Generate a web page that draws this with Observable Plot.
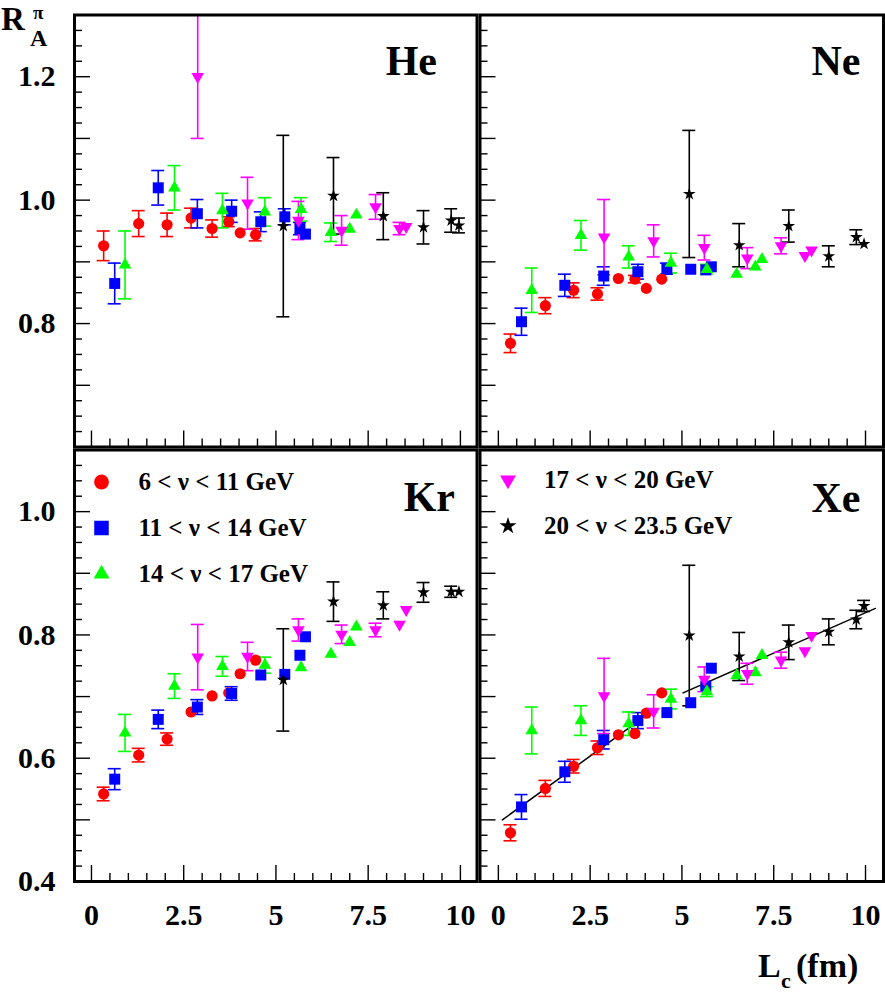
<!DOCTYPE html>
<html>
<head>
<meta charset="utf-8">
<script src="https://cdn.jsdelivr.net/npm/d3@7"></script>
<script src="https://cdn.jsdelivr.net/npm/@observablehq/plot@0.6"></script>
<style>
  html, body { margin: 0; padding: 0; background: #fff; }
  #chart { position: relative; width: 885px; height: 994px; overflow: hidden; background: #fff; }
  #chart svg { position: absolute; left: 0; top: 0; }
</style>
</head>
<body>
<div id="chart"></div>
<script>
// Coherence length L_c (fm) of each nu bin
const lcBin1 = [0.33, 1.28, 2.05, 2.70, 3.27, 3.72, 4.03, 4.45];
const lcBin2 = [0.63, 1.81, 2.87, 3.80, 4.59, 5.24, 5.65, 5.80];
const lcBin3 = [0.91, 2.25, 3.55, 4.70, 5.68, 6.49, 7.00, 7.18];
const lcBin4 = [2.88, 4.23, 5.61, 6.78, 7.70, 8.35, 8.53];
const lcBin5 = [5.20, 6.56, 7.91, 9.00, 9.75, 9.96];

// R_A^pi and its error, [value, error] per point (error 0 = hidden behind marker)
const heBin1 = [[0.926,0.024],[0.962,0.021],[0.960,0.019],[0.971,0.016],[0.954,0.014],[0.965,0.008],[0.947,0],[0.944,0.010]];
const heBin2 = [[0.865,0.033],[1.020,0.028],[0.978,0.023],[0.982,0.018],[0.965,0.016],[0.973,0.013],[0.954,0.010],[0.945,0]];
const heBin3 = [[0.895,0.055],[1.020,0.036],[0.983,0.028],[0.981,0.023],[0.985,0.019],[0.948,0.015],[0.953,0],[0.976,0]];
const heBin4 = [[1.200,0.100],[0.995,0.042],[0.967,0.031],[0.951,0.024],[0.989,0.020],[0.954,0.010],[0.957,0]];
const heBin5 = [[0.958,0.147],[1.007,0.062],[0.974,0.038],[0.956,0.027],[0.967,0.019],[0.959,0.012]];

const neBin1 = [[0.768,0.015],[0.829,0.013],[0.854,0.012],[0.848,0.010],[0.873,0],[0.872,0.006],[0.857,0],[0.872,0]];
const neBin2 = [[0.803,0.022],[0.862,0.018],[0.877,0.015],[0.884,0.012],[0.889,0.009],[0.888,0],[0.887,0],[0.892,0]];
const neBin3 = [[0.854,0.036],[0.943,0.024],[0.908,0.018],[0.898,0.016],[0.888,0.008],[0.880,0],[0.892,0],[0.904,0]];
const neBin4 = [[0.940,0.061],[0.934,0.026],[0.923,0.020],[0.906,0.017],[0.926,0.013],[0.910,0],[0.919,0]];
const neBin5 = [[1.010,0.103],[0.927,0.035],[0.958,0.026],[0.909,0.017],[0.940,0.012],[0.929,0]];

const krBin1 = [[0.542,0.011],[0.605,0.011],[0.631,0.010],[0.675,0],[0.701,0],[0.706,0],[0.737,0],[0.759,0]];
const krBin2 = [[0.566,0.017],[0.663,0.015],[0.683,0.012],[0.705,0.011],[0.735,0],[0.736,0],[0.767,0],[0.797,0]];
const krBin3 = [[0.641,0.030],[0.717,0.020],[0.749,0.016],[0.751,0.013],[0.747,0],[0.769,0],[0.788,0],[0.813,0]];
const krBin4 = [[0.764,0.053],[0.765,0.023],[0.808,0.018],[0.801,0.015],[0.808,0.011],[0.817,0],[0.841,0]];
const krBin5 = [[0.727,0.083],[0.854,0.032],[0.848,0.022],[0.869,0.016],[0.870,0.009],[0.870,0]];

const xeBin1 = [[0.479,0.013],[0.551,0.013],[0.587,0.011],[0.617,0.011],[0.638,0],[0.640,0],[0.673,0],[0.706,0]];
const xeBin2 = [[0.521,0.020],[0.578,0.017],[0.630,0.015],[0.661,0.013],[0.674,0],[0.690,0],[0.717,0],[0.746,0]];
const xeBin3 = [[0.645,0.038],[0.661,0.024],[0.656,0.019],[0.696,0.016],[0.708,0.008],[0.734,0],[0.739,0],[0.767,0]];
const xeBin4 = [[0.701,0.061],[0.676,0.027],[0.728,0.020],[0.737,0.017],[0.759,0.013],[0.774,0],[0.799,0]];
const xeBin5 = [[0.799,0.114],[0.765,0.039],[0.788,0.028],[0.805,0.021],[0.825,0.015],[0.847,0.009]];

// Linear fits drawn on the Xe panel (end points)
const xeFitLow = [[0.11, 0.500], [3.69, 0.655]];
const xeFitHigh = [[5.03, 0.706], [10.27, 0.843]];

// Labels
const binLabels = ["6 < ν < 11 GeV", "11 < ν < 14 GeV", "14 < ν < 17 GeV", "17 < ν < 20 GeV", "20 < ν < 23.5 GeV"];
const nuclei = ["He", "Ne", "Kr", "Xe"];
const xTickLabels = [0, 2.5, 5, 7.5, 10];
const yTickLabelsTop = [0.8, 1.0, 1.2];
const yTickLabelsBottom = [0.4, 0.6, 0.8, 1.0];

const W = 885, H = 994;
const FONT = "'Liberation Serif', 'Times New Roman', serif";

const styles = [
  {lc: lcBin1, color: "#ff0000", symbol: "circle",   r: 5.6, rotate: 0,   lr: 7.4},
  {lc: lcBin2, color: "#0000ff", symbol: "square",   r: 6.2, rotate: 0,   lr: 8.2},
  {lc: lcBin3, color: "#00ff00", symbol: "triangle", r: 4.7, rotate: 0,   lr: 5.9},
  {lc: lcBin4, color: "#ff00ff", symbol: "triangle", r: 4.7, rotate: 180, lr: 5.9},
  {lc: lcBin5, color: "#000000", symbol: "star",     r: 4.0, rotate: 0,   lr: 5.4}
];

function rows(bin, s) {
  return bin.map((v, i) => ({x: s.lc[i], y: v[0], e: v[1]}));
}

function panel({bins, frame, xDomain, yDomain, yLabels, showX, name, nameDx, nameDy, legend, fits}) {
  const [x0] = xDomain;
  const [y0] = yDomain;
  const yT = d3.range(1, 28).map(i => ({v: +(y0 + i * 0.025).toFixed(3), major: i % 4 === 0}));
  const xT = d3.range(0, 21).map(i => ({v: i * 0.5, major: i % 5 === 0}));
  const marks = [];

  // inward ticks on the left and bottom edges
  marks.push(Plot.ruleY(yT.filter(t => !t.major), {y: "v", x1: () => x0, x2: () => x0, insetRight: -8, stroke: "black", strokeWidth: 1.4}));
  marks.push(Plot.ruleY(yT.filter(t => t.major), {y: "v", x1: () => x0, x2: () => x0, insetRight: -16, stroke: "black", strokeWidth: 1.4}));
  marks.push(Plot.ruleX(xT.filter(t => !t.major), {x: "v", y1: () => y0, y2: () => y0, insetTop: -8, stroke: "black", strokeWidth: 1.4}));
  marks.push(Plot.ruleX(xT.filter(t => t.major), {x: "v", y1: () => y0, y2: () => y0, insetTop: -16, stroke: "black", strokeWidth: 1.4}));

  if (fits) {
    for (const f of fits) marks.push(Plot.line(f, {x: d => d[0], y: d => d[1], stroke: "black", strokeWidth: 1.5}));
  }

  bins.forEach((bin, k) => {
    const s = styles[k];
    const data = rows(bin, s);
    const withErr = data.filter(d => d.e > 0);
    marks.push(Plot.ruleX(withErr, {x: "x", y1: d => d.y - d.e, y2: d => d.y + d.e, stroke: s.color, strokeWidth: 1.6}));
    const caps = withErr.flatMap(d => [{x: d.x, y: d.y - d.e}, {x: d.x, y: d.y + d.e}]);
    marks.push(Plot.ruleY(caps, {y: "y", x1: "x", x2: "x", insetLeft: -6.5, insetRight: -6.5, stroke: s.color, strokeWidth: 1.6}));
  });
  bins.forEach((bin, k) => {
    const s = styles[k];
    marks.push(Plot.dot(rows(bin, s), {x: "x", y: "y", symbol: s.symbol, r: s.r, rotate: s.rotate, fill: s.color, stroke: "none"}));
  });

  if (legend) {
    legend.forEach(({k, dy}) => {
      const s = styles[k];
      marks.push(Plot.dot([binLabels[k]], {frameAnchor: "top-left", dx: legend.dx, dy, symbol: s.symbol, r: s.lr, rotate: s.rotate, fill: s.color, stroke: "none"}));
      marks.push(Plot.text([binLabels[k]], {frameAnchor: "top-left", dx: legend.tx, dy, textAnchor: "start", lineAnchor: "middle", fontSize: 25, fontWeight: "bold", fontFamily: FONT, fill: "black"}));
    });
  }

  marks.push(Plot.text([name], {frameAnchor: "top-right", dx: nameDx, dy: nameDy, textAnchor: "end", lineAnchor: "bottom", fontSize: 42, fontWeight: "bold", fontFamily: FONT, fill: "black"}));
  marks.push(Plot.frame({stroke: "black", strokeWidth: 3}));

  return Plot.plot({
    width: W,
    height: H,
    marginLeft: frame.left,
    marginRight: W - frame.right,
    marginTop: frame.top,
    marginBottom: H - frame.bottom,
    style: `background: transparent; overflow: visible; font-family: ${FONT}; font-weight: bold; font-size: 30px; color: black;`,
    x: {domain: xDomain, axis: showX ? "bottom" : null, ticks: xTickLabels, tickSize: 0, tickPadding: 22, tickFormat: d => String(d), label: null},
    y: {domain: yDomain, axis: yLabels ? "left" : null, ticks: yLabels || [], tickSize: 0, tickPadding: 19, tickFormat: d3.format(".1f"), label: null},
    marks
  });
}

const chart = document.getElementById("chart");
const leftX = [-0.46, 10.45];
const rightX = [-0.50, 10.49];

const legendLeft = [{k: 0, dy: 32}, {k: 1, dy: 78}, {k: 2, dy: 124}];
legendLeft.dx = 27; legendLeft.tx = 64;
const legendRight = [{k: 3, dy: 30}, {k: 4, dy: 76}];
legendRight.dx = 28; legendRight.tx = 64;

chart.appendChild(panel({
  bins: [heBin1, heBin2, heBin3, heBin4, heBin5],
  frame: {left: 74, right: 476.5, top: 14.5, bottom: 446.5},
  xDomain: leftX, yDomain: [0.6, 1.3], yLabels: yTickLabelsTop, showX: false,
  name: nuclei[0], nameDx: -40, nameDy: 60
}));
chart.appendChild(panel({
  bins: [neBin1, neBin2, neBin3, neBin4, neBin5],
  frame: {left: 479.5, right: 883, top: 14.5, bottom: 446.5},
  xDomain: rightX, yDomain: [0.6, 1.3], yLabels: null, showX: false,
  name: nuclei[1], nameDx: -23, nameDy: 60
}));
chart.appendChild(panel({
  bins: [krBin1, krBin2, krBin3, krBin4, krBin5],
  frame: {left: 74, right: 476.5, top: 449.5, bottom: 881},
  xDomain: leftX, yDomain: [0.4, 1.1], yLabels: yTickLabelsBottom, showX: true,
  name: nuclei[2], nameDx: -22, nameDy: 61, legend: legendLeft
}));
chart.appendChild(panel({
  bins: [xeBin1, xeBin2, xeBin3, xeBin4, xeBin5],
  frame: {left: 479.5, right: 883, top: 449.5, bottom: 881},
  xDomain: rightX, yDomain: [0.4, 1.1], yLabels: null, showX: true,
  name: nuclei[3], nameDx: -23, nameDy: 62, legend: legendRight, fits: [xeFitLow, xeFitHigh]
}));

// Axis titles with sub- and superscripts
const titles = d3.select(chart).append("svg")
  .attr("width", W).attr("height", H)
  .style("pointer-events", "none")
  .attr("font-family", FONT).attr("font-weight", "bold").attr("fill", "black");

titles.append("text").attr("x", 1).attr("y", 30).attr("font-size", 33).text("R");
titles.append("text").attr("x", 33).attr("y", 19).attr("font-size", 19).text("π");
titles.append("text").attr("x", 30).attr("y", 46).attr("font-size", 24).text("A");

titles.append("text").attr("x", 758).attr("y", 977).attr("font-size", 34).text("L");
titles.append("text").attr("x", 781).attr("y", 988).attr("font-size", 22).text("c");
titles.append("text").attr("x", 796).attr("y", 977).attr("font-size", 34).text("(fm)");
</script>
</body>
</html>
